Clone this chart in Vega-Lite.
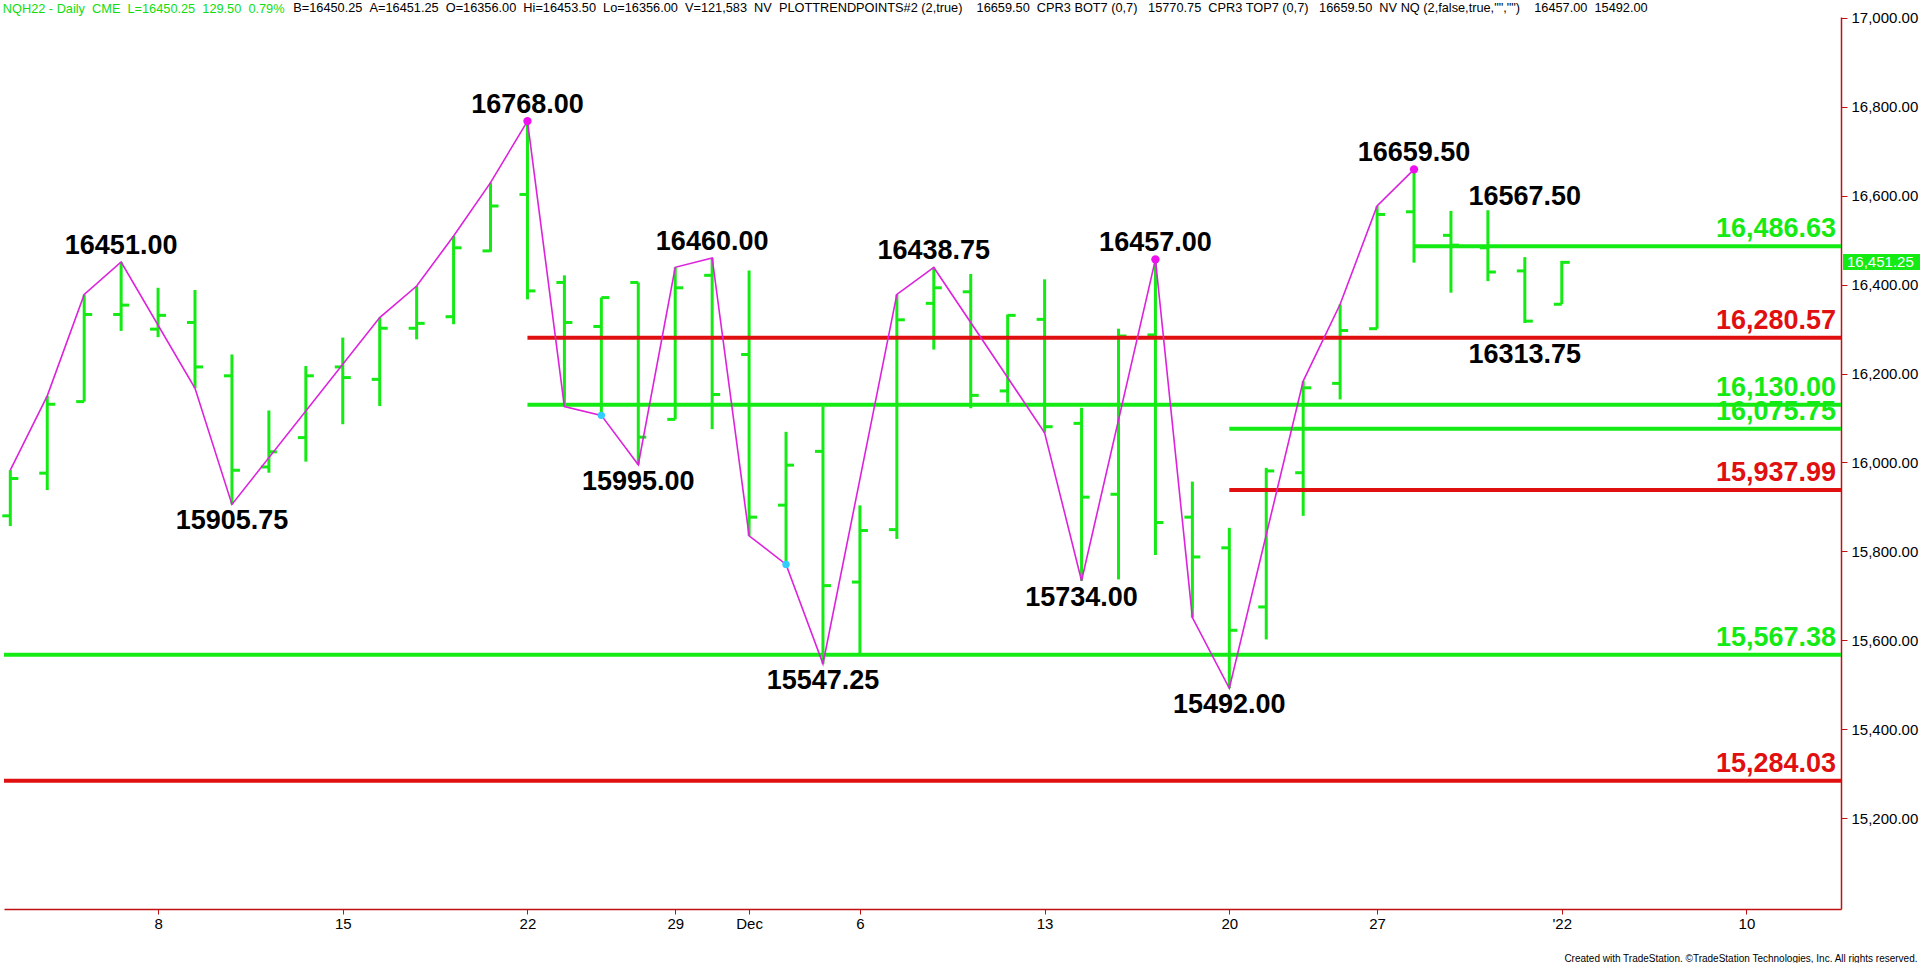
{
  "$schema": "https://vega.github.io/schema/vega-lite/v6.json",
  "width": 1837,
  "height": 892,
  "padding": {"left": 0, "top": 1, "right": 0, "bottom": 0},
  "autosize": {"type": "pad"},
  "background": "white",
  "config": {"view": {"stroke": null}, "font": "Liberation Sans"},
  "title": {
    "text": "NQH22 - Daily\u00a0\u00a0CME\u00a0\u00a0L=16450.25\u00a0\u00a0129.50\u00a0\u00a00.79%",
    "subtitle": "\u200b\u00a0\u00a0\u00a0\u00a0\u00a0\u00a0\u00a0\u00a0\u00a0\u00a0\u00a0\u00a0\u00a0\u00a0\u00a0\u00a0\u00a0\u00a0\u00a0\u00a0\u00a0\u00a0\u00a0\u00a0\u00a0\u00a0\u00a0\u00a0\u00a0\u00a0\u00a0\u00a0\u00a0\u00a0\u00a0\u00a0\u00a0\u00a0\u00a0\u00a0\u00a0\u00a0\u00a0\u00a0\u00a0\u00a0\u00a0\u00a0\u00a0\u00a0\u00a0\u00a0\u00a0\u00a0\u00a0\u00a0\u00a0\u00a0\u00a0\u00a0\u00a0\u00a0\u00a0\u00a0\u00a0\u00a0\u00a0\u00a0\u00a0\u00a0\u00a0\u00a0\u00a0\u00a0\u00a0\u00a0\u00a0\u00a0\u00a0\u00a0\u00a0\u00a0B=16450.25\u00a0\u00a0A=16451.25\u00a0\u00a0O=16356.00\u00a0\u00a0Hi=16453.50\u00a0\u00a0Lo=16356.00\u00a0\u00a0V=121,583\u00a0\u00a0NV\u00a0\u00a0PLOTTRENDPOINTS#2 (2,true)\u00a0\u00a0\u00a0\u00a016659.50\u00a0\u00a0CPR3 BOT7 (0,7)\u00a0\u00a0\u00a015770.75\u00a0\u00a0CPR3 TOP7 (0,7)\u00a0\u00a0\u00a016659.50\u00a0\u00a0NV NQ (2,false,true,\"\",\"\")\u00a0\u00a0\u00a0\u00a016457.00\u00a0\u00a015492.00",
    "anchor": "start",
    "frame": "bounds",
    "dx": 2,
    "fontSize": 12.75,
    "fontWeight": "normal",
    "color": "#11dd11",
    "font": "Liberation Sans",
    "lineHeight": 14,
    "subtitleFontSize": 12.75,
    "subtitleFont": "Liberation Sans",
    "subtitleFontWeight": "normal",
    "subtitleColor": "#000000",
    "subtitleLineHeight": 14,
    "subtitlePadding": -14,
    "offset": -6
  },
  "datasets": {
    "bars": [
      {"date": "2021-11-02", "open": 15880, "high": 15983, "low": 15857, "close": 15964},
      {"date": "2021-11-03", "open": 15976, "high": 16150, "low": 15938, "close": 16131},
      {"date": "2021-11-04", "open": 16137, "high": 16378, "low": 16137, "close": 16333},
      {"date": "2021-11-05", "open": 16333, "high": 16451, "low": 16296, "close": 16354},
      {"date": "2021-11-08", "open": 16300, "high": 16393, "low": 16282, "close": 16331},
      {"date": "2021-11-09", "open": 16315, "high": 16388, "low": 16167, "close": 16215},
      {"date": "2021-11-10", "open": 16195, "high": 16243, "low": 15905.75, "close": 15982.5},
      {"date": "2021-11-11", "open": 15990, "high": 16117, "low": 15977, "close": 16024},
      {"date": "2021-11-12", "open": 16056, "high": 16217, "low": 16002, "close": 16195},
      {"date": "2021-11-15", "open": 16215, "high": 16281, "low": 16086, "close": 16191},
      {"date": "2021-11-16", "open": 16187, "high": 16326, "low": 16127, "close": 16302},
      {"date": "2021-11-17", "open": 16302, "high": 16397, "low": 16277, "close": 16313},
      {"date": "2021-11-18", "open": 16328, "high": 16509.5, "low": 16311, "close": 16483},
      {"date": "2021-11-19", "open": 16476, "high": 16629.5, "low": 16474, "close": 16577},
      {"date": "2021-11-22", "open": 16603, "high": 16768, "low": 16367, "close": 16386},
      {"date": "2021-11-23", "open": 16405, "high": 16421, "low": 16126, "close": 16315},
      {"date": "2021-11-24", "open": 16306, "high": 16371, "low": 16106, "close": 16371},
      {"date": "2021-11-26", "open": 16405, "high": 16405, "low": 15995, "close": 16057},
      {"date": "2021-11-29", "open": 16097, "high": 16439, "low": 16097, "close": 16393},
      {"date": "2021-11-30", "open": 16421, "high": 16460, "low": 16075, "close": 16153},
      {"date": "2021-12-01", "open": 16243, "high": 16432, "low": 15835, "close": 15877},
      {"date": "2021-12-02", "open": 15904, "high": 16069, "low": 15770.75, "close": 15994},
      {"date": "2021-12-03", "open": 16025, "high": 16126, "low": 15547.25, "close": 15723},
      {"date": "2021-12-06", "open": 15731, "high": 15903.5, "low": 15568, "close": 15847},
      {"date": "2021-12-07", "open": 15849, "high": 16378, "low": 15828, "close": 16321},
      {"date": "2021-12-08", "open": 16358, "high": 16438.75, "low": 16254, "close": 16393},
      {"date": "2021-12-09", "open": 16384, "high": 16424, "low": 16122, "close": 16151},
      {"date": "2021-12-10", "open": 16161, "high": 16333, "low": 16134.5, "close": 16331},
      {"date": "2021-12-13", "open": 16322, "high": 16412, "low": 16067, "close": 16080.5},
      {"date": "2021-12-14", "open": 16088, "high": 16123, "low": 15734, "close": 15922},
      {"date": "2021-12-15", "open": 15928.5, "high": 16301, "low": 15737, "close": 16284.5},
      {"date": "2021-12-16", "open": 16287, "high": 16457, "low": 15792, "close": 15865},
      {"date": "2021-12-17", "open": 15877, "high": 15957, "low": 15651, "close": 15787.5},
      {"date": "2021-12-20", "open": 15808, "high": 15853, "low": 15492, "close": 15622.5},
      {"date": "2021-12-21", "open": 15675, "high": 15988, "low": 15602, "close": 15981},
      {"date": "2021-12-22", "open": 15977, "high": 16183, "low": 15880, "close": 16168},
      {"date": "2021-12-23", "open": 16178, "high": 16356, "low": 16142, "close": 16297},
      {"date": "2021-12-27", "open": 16301, "high": 16577, "low": 16301, "close": 16558},
      {"date": "2021-12-28", "open": 16564, "high": 16659.5, "low": 16449.5, "close": 16486},
      {"date": "2021-12-29", "open": 16511, "high": 16566, "low": 16382, "close": 16489},
      {"date": "2021-12-30", "open": 16483, "high": 16567.5, "low": 16408, "close": 16428.5},
      {"date": "2021-12-31", "open": 16431, "high": 16462, "low": 16313.75, "close": 16318},
      {"date": "2022-01-03", "open": 16356, "high": 16453.5, "low": 16356, "close": 16450.25}
    ],
    "trend": [
      {"date": "2021-11-02", "price": 15983},
      {"date": "2021-11-03", "price": 16150},
      {"date": "2021-11-04", "price": 16378},
      {"date": "2021-11-05", "price": 16451},
      {"date": "2021-11-09", "price": 16167},
      {"date": "2021-11-10", "price": 15905.75},
      {"date": "2021-11-16", "price": 16326},
      {"date": "2021-11-17", "price": 16397},
      {"date": "2021-11-18", "price": 16509.5},
      {"date": "2021-11-19", "price": 16629.5},
      {"date": "2021-11-22", "price": 16768},
      {"date": "2021-11-23", "price": 16126},
      {"date": "2021-11-24", "price": 16106},
      {"date": "2021-11-26", "price": 15995},
      {"date": "2021-11-29", "price": 16439},
      {"date": "2021-11-30", "price": 16460},
      {"date": "2021-12-01", "price": 15835},
      {"date": "2021-12-02", "price": 15770.75},
      {"date": "2021-12-03", "price": 15547.25},
      {"date": "2021-12-07", "price": 16378},
      {"date": "2021-12-08", "price": 16438.75},
      {"date": "2021-12-13", "price": 16067},
      {"date": "2021-12-14", "price": 15734},
      {"date": "2021-12-16", "price": 16457},
      {"date": "2021-12-17", "price": 15651},
      {"date": "2021-12-20", "price": 15492},
      {"date": "2021-12-22", "price": 16183},
      {"date": "2021-12-23", "price": 16356},
      {"date": "2021-12-27", "price": 16577},
      {"date": "2021-12-28", "price": 16659.5}
    ],
    "pivots": [
      {"date": "2021-11-22", "price": 16768, "series": "top"},
      {"date": "2021-12-16", "price": 16457, "series": "top"},
      {"date": "2021-12-28", "price": 16659.5, "series": "top"},
      {"date": "2021-11-24", "price": 16106, "series": "bottom"},
      {"date": "2021-12-02", "price": 15770.75, "series": "bottom"}
    ],
    "swings": [
      {"date": "2021-11-05", "price": 16451, "side": "high", "status": "confirmed"},
      {"date": "2021-11-10", "price": 15905.75, "side": "low", "status": "confirmed"},
      {"date": "2021-11-22", "price": 16768, "side": "high", "status": "confirmed"},
      {"date": "2021-11-26", "price": 15995, "side": "low", "status": "confirmed"},
      {"date": "2021-11-30", "price": 16460, "side": "high", "status": "confirmed"},
      {"date": "2021-12-03", "price": 15547.25, "side": "low", "status": "confirmed"},
      {"date": "2021-12-08", "price": 16438.75, "side": "high", "status": "confirmed"},
      {"date": "2021-12-14", "price": 15734, "side": "low", "status": "confirmed"},
      {"date": "2021-12-16", "price": 16457, "side": "high", "status": "confirmed"},
      {"date": "2021-12-20", "price": 15492, "side": "low", "status": "confirmed"},
      {"date": "2021-12-28", "price": 16659.5, "side": "high", "status": "confirmed"},
      {"date": "2021-12-31", "price": 16567.5, "side": "high", "status": "pending"},
      {"date": "2021-12-31", "price": 16313.75, "side": "low", "status": "pending"}
    ],
    "levels": [
      {"date": "2021-12-28", "price": 16486.63, "ratio": "50%"},
      {"date": "2021-11-22", "price": 16280.57, "ratio": "61.8%"},
      {"date": "2021-11-22", "price": 16130.0, "ratio": "50%"},
      {"date": "2021-12-20", "price": 16075.75, "ratio": "50%"},
      {"date": "2021-12-20", "price": 15937.99, "ratio": "61.8%"},
      {"date": null, "price": 15567.38, "ratio": "50%"},
      {"date": null, "price": 15284.03, "ratio": "61.8%"}
    ],
    "quote": [{"price": 16451.25}]
  },
  "encoding": {
    "x": {
      "field": "date",
      "type": "ordinal",
      "scale": {
        "type": "point",
        "padding": 0.365,
        "align": 0.234,
        "domain": ["2021-11-02","2021-11-03","2021-11-04","2021-11-05","2021-11-08","2021-11-09","2021-11-10","2021-11-11","2021-11-12","2021-11-15","2021-11-16","2021-11-17","2021-11-18","2021-11-19","2021-11-22","2021-11-23","2021-11-24","2021-11-26","2021-11-29","2021-11-30","2021-12-01","2021-12-02","2021-12-03","2021-12-06","2021-12-07","2021-12-08","2021-12-09","2021-12-10","2021-12-13","2021-12-14","2021-12-15","2021-12-16","2021-12-17","2021-12-20","2021-12-21","2021-12-22","2021-12-23","2021-12-27","2021-12-28","2021-12-29","2021-12-30","2021-12-31","2022-01-03","2022-01-04","2022-01-05","2022-01-06","2022-01-07","2022-01-10","2022-01-11","2022-01-12"]
      },
      "axis": {
        "values": ["2021-11-08","2021-11-15","2021-11-22","2021-11-29","2021-12-01","2021-12-06","2021-12-13","2021-12-20","2021-12-27","2022-01-03","2022-01-10"],
        "labelExpr": "datum.value == '2021-12-01' ? 'Dec' : datum.value == '2022-01-03' ? \"'22\" : '' + toNumber(substring(datum.value, 8, 10))",
        "labelAngle": 0,
        "labelFontSize": 15,
        "labelColor": "#000000",
        "labelFont": "Liberation Sans",
        "labelPadding": 2,
        "tickColor": "#c01010",
        "tickSize": 5,
        "domainColor": "#c01010",
        "domainWidth": 1.5,
        "grid": false,
        "title": "Created with TradeStation. \u00a9TradeStation Technologies, Inc. All rights reserved.",
        "titleFontSize": 10,
        "titleFontWeight": "normal",
        "titleFont": "Liberation Sans",
        "titleColor": "#000000",
        "titleAlign": "right",
        "titleX": 1913,
        "titlePadding": 22
      }
    },
    "y": {
      "field": "price",
      "type": "quantitative",
      "scale": {"domain": [14995.5, 17002.2], "nice": false, "zero": false},
      "axis": {
        "orient": "right",
        "values": [15200, 15400, 15600, 15800, 16000, 16200, 16400, 16600, 16800, 17000],
        "format": ",.2f",
        "labelFontSize": 15,
        "labelColor": "#000000",
        "labelFont": "Liberation Sans",
        "labelPadding": 4,
        "tickColor": "#c01010",
        "tickSize": 6,
        "domainColor": "#c01010",
        "domainWidth": 1.5,
        "grid": false,
        "title": null
      }
    }
  },
  "layer": [
    {
      "data": {"name": "levels"},
      "transform": [{"filter": "datum.date == null"}],
      "mark": {"type": "rule", "strokeWidth": 4},
      "encoding": {
        "x": {"value": 0},
        "x2": {"value": "width"},
        "color": {"field": "ratio", "type": "nominal", "scale": {"domain": ["50%", "61.8%"], "range": ["#14ea14", "#e01010"]}, "legend": null}
      }
    },
    {
      "data": {"name": "bars"},
      "mark": {"type": "rule", "color": "#14ea14", "strokeWidth": 3},
      "encoding": {
        "y": {
          "field": "low",
          "type": "quantitative",
          "scale": {"domain": [14995.5, 17002.2], "nice": false, "zero": false},
          "axis": {"orient": "right", "values": [15200, 15400, 15600, 15800, 16000, 16200, 16400, 16600, 16800, 17000], "format": ",.2f", "labelFontSize": 15, "labelColor": "#000000", "labelFont": "Liberation Sans", "labelPadding": 4, "tickColor": "#c01010", "tickSize": 6, "domainColor": "#c01010", "domainWidth": 1.5, "grid": false, "title": null}
        },
        "y2": {"field": "high"}
      }
    },
    {
      "data": {"name": "bars"},
      "mark": {"type": "rule", "color": "#14ea14", "strokeWidth": 3, "xOffset": -8, "x2Offset": 0},
      "encoding": {
        "x2": {"field": "date"},
        "y": {
          "field": "open",
          "type": "quantitative",
          "scale": {"domain": [14995.5, 17002.2], "nice": false, "zero": false},
          "axis": {"orient": "right", "values": [15200, 15400, 15600, 15800, 16000, 16200, 16400, 16600, 16800, 17000], "format": ",.2f", "labelFontSize": 15, "labelColor": "#000000", "labelFont": "Liberation Sans", "labelPadding": 4, "tickColor": "#c01010", "tickSize": 6, "domainColor": "#c01010", "domainWidth": 1.5, "grid": false, "title": null}
        }
      }
    },
    {
      "data": {"name": "bars"},
      "mark": {"type": "rule", "color": "#14ea14", "strokeWidth": 3, "xOffset": 0, "x2Offset": 8},
      "encoding": {
        "x2": {"field": "date"},
        "y": {
          "field": "close",
          "type": "quantitative",
          "scale": {"domain": [14995.5, 17002.2], "nice": false, "zero": false},
          "axis": {"orient": "right", "values": [15200, 15400, 15600, 15800, 16000, 16200, 16400, 16600, 16800, 17000], "format": ",.2f", "labelFontSize": 15, "labelColor": "#000000", "labelFont": "Liberation Sans", "labelPadding": 4, "tickColor": "#c01010", "tickSize": 6, "domainColor": "#c01010", "domainWidth": 1.5, "grid": false, "title": null}
        }
      }
    },
    {
      "data": {"name": "levels"},
      "transform": [{"filter": "datum.date != null"}],
      "mark": {"type": "rule", "strokeWidth": 4},
      "encoding": {
        "x2": {"value": "width"},
        "color": {"field": "ratio", "type": "nominal", "scale": {"domain": ["50%", "61.8%"], "range": ["#14ea14", "#e01010"]}, "legend": null}
      }
    },
    {
      "data": {"name": "levels"},
      "mark": {"type": "text", "font": "Liberation Sans", "fontSize": 27, "fontWeight": "bold", "align": "right", "baseline": "alphabetic", "dx": -5, "dy": -9},
      "encoding": {
        "x": {"value": "width"},
        "text": {"field": "price", "type": "quantitative", "format": ",.2f"},
        "color": {"field": "ratio", "type": "nominal", "scale": {"domain": ["50%", "61.8%"], "range": ["#14ea14", "#e01010"]}, "legend": null}
      }
    },
    {
      "data": {"name": "trend"},
      "mark": {"type": "line", "color": "#dd22dd", "strokeWidth": 1.6}
    },
    {
      "data": {"name": "pivots"},
      "transform": [{"filter": "datum.series == 'top'"}],
      "mark": {"type": "point", "filled": true, "color": "#ee11ee", "size": 70, "opacity": 1}
    },
    {
      "data": {"name": "pivots"},
      "transform": [{"filter": "datum.series == 'bottom'"}],
      "mark": {"type": "point", "filled": true, "color": "#33ccff", "size": 55, "opacity": 1}
    },
    {
      "data": {"name": "swings"},
      "transform": [{"filter": "datum.side == 'high' && datum.status == 'confirmed'"}],
      "mark": {"type": "text", "font": "Liberation Sans", "fontSize": 27, "fontWeight": "bold", "color": "#000000", "align": "center", "baseline": "alphabetic", "dy": -8},
      "encoding": {"text": {"field": "price", "type": "quantitative", "format": ".2f"}}
    },
    {
      "data": {"name": "swings"},
      "transform": [{"filter": "datum.side == 'low' && datum.status == 'confirmed'"}],
      "mark": {"type": "text", "font": "Liberation Sans", "fontSize": 27, "fontWeight": "bold", "color": "#000000", "align": "center", "baseline": "alphabetic", "dy": 25},
      "encoding": {"text": {"field": "price", "type": "quantitative", "format": ".2f"}}
    },
    {
      "data": {"name": "swings"},
      "transform": [{"filter": "datum.side == 'high' && datum.status == 'pending'"}],
      "mark": {"type": "text", "font": "Liberation Sans", "fontSize": 27, "fontWeight": "bold", "color": "#000000", "align": "center", "baseline": "alphabetic", "dy": -5},
      "encoding": {"text": {"field": "price", "type": "quantitative", "format": ".2f"}}
    },
    {
      "data": {"name": "swings"},
      "transform": [{"filter": "datum.side == 'low' && datum.status == 'pending'"}],
      "mark": {"type": "text", "font": "Liberation Sans", "fontSize": 27, "fontWeight": "bold", "color": "#000000", "align": "center", "baseline": "alphabetic", "dy": 40},
      "encoding": {"text": {"field": "price", "type": "quantitative", "format": ".2f"}}
    },
    {
      "data": {"name": "quote"},
      "mark": {"type": "point", "shape": "M0,-0.1H1V0.1H0Z", "size": 25600, "filled": true, "color": "#14ea14", "opacity": 1, "strokeWidth": 0, "xOffset": 2},
      "encoding": {"x": {"value": "width"}}
    },
    {
      "data": {"name": "quote"},
      "mark": {"type": "text", "font": "Liberation Sans", "fontSize": 15, "color": "#ffffff", "align": "left", "baseline": "middle", "dx": 6},
      "encoding": {"x": {"value": "width"}, "text": {"field": "price", "type": "quantitative", "format": ",.2f"}}
    }
  ]
}
